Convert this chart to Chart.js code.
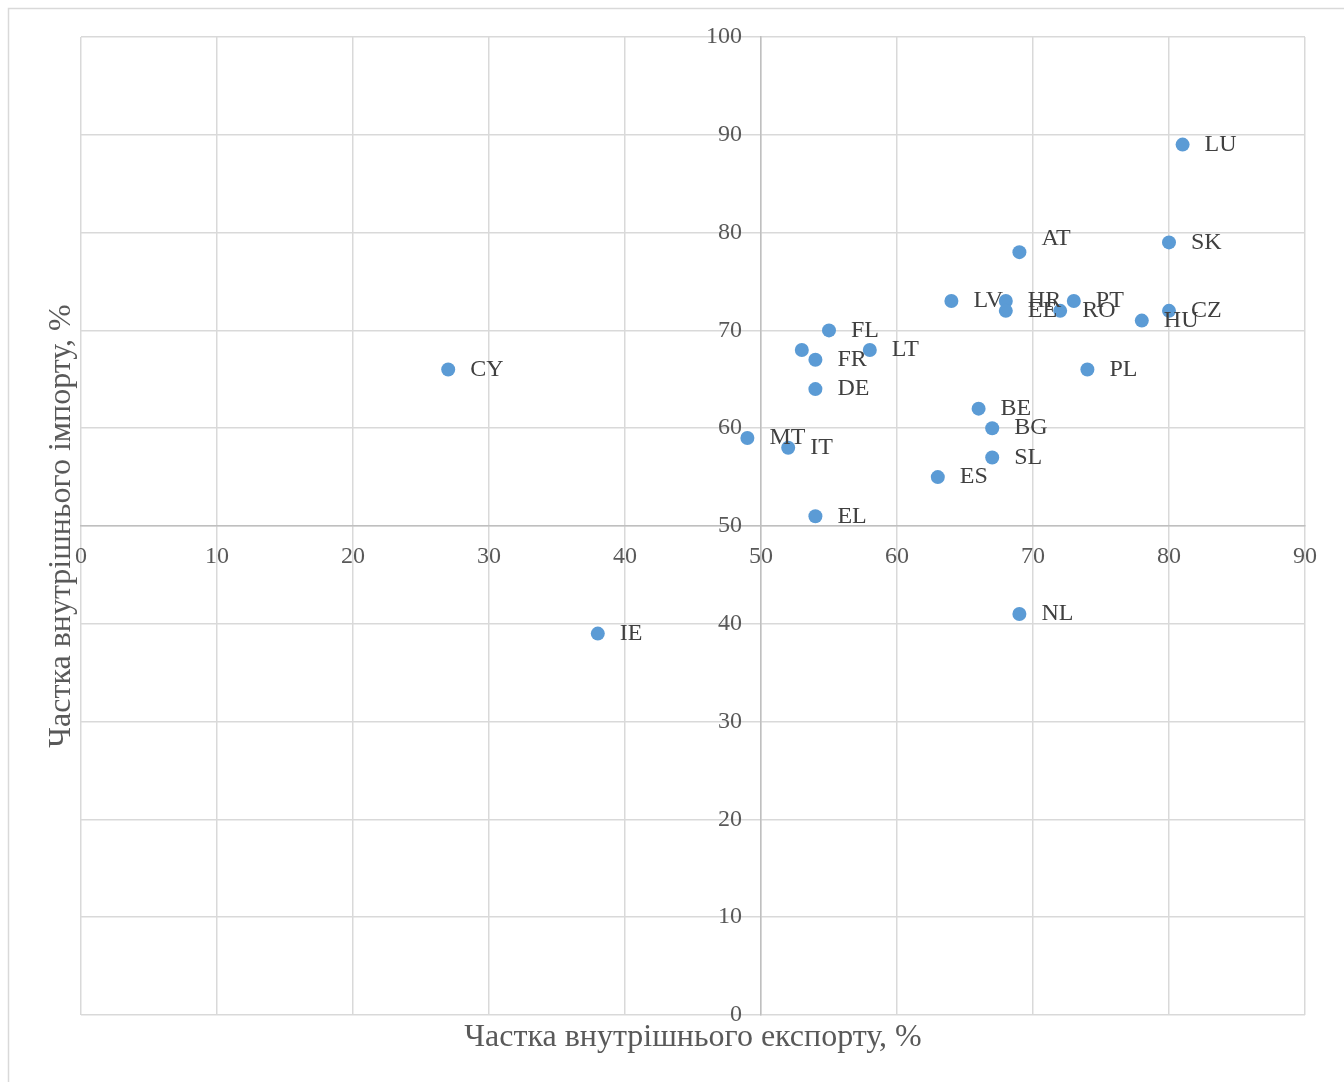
<!DOCTYPE html>
<html>
<head>
<meta charset="utf-8">
<script src="https://cdn.jsdelivr.net/npm/chart.js@4"></script>
<style>
html,body{margin:0;padding:0;background:#fff;}
canvas{display:block;}
</style>
</head>
<body>
<canvas id="c" width="1344" height="1082"></canvas>
<script>
const countries = ['LU','AT','SK','LV','HR','EE','PT','RO','CZ','HU','FL','','LT','FR','DE','CY','PL','BE','BG','MT','IT','SL','ES','EL','NL','IE'];
const exportShare = [81,69,80,64,68,68,73,72,80,78,55,53,58,54,54,27,74,66,67,49,52,67,63,54,69,38];
const importShare = [89,78,79,73,73,72,73,72,72,71,70,68,68,67,64,66,66,62,60,59,58,57,55,51,41,39];
const labelShiftY = {AT: -13};
const xTitle = 'Частка внутрішнього експорту, %';
const yTitle = 'Частка внутрішнього імпорту, %';

const points = exportShare.map((x, i) => ({x: x, y: importShare[i]}));

const serif = '"Liberation Serif", "Times New Roman", serif';

const extras = {
  id: 'extras',
  afterLayout(chart) {
    const s = chart.scales.y;
    if (s && !s._shifted) {
      const orig = s.drawLabels;
      s.drawLabels = function (area) {
        const c = this.ctx;
        c.save();
        c.translate(-19, 0);
        orig.call(this, area);
        c.restore();
      };
      s._shifted = true;
    }
  },
  beforeDraw(chart) {
    const ctx = chart.ctx;
    ctx.save();
    ctx.fillStyle = '#fff';
    ctx.fillRect(0, 0, chart.width, chart.height);
    ctx.strokeStyle = '#d9d9d9';
    ctx.lineWidth = 1.5;
    ctx.strokeRect(8.5, 8.5, chart.width + 20, chart.height + 20);
    ctx.restore();
  },
  afterDraw(chart) {
    const ctx = chart.ctx;
    const area = chart.chartArea;
    ctx.save();
    // data labels
    ctx.font = '24px ' + serif;
    ctx.fillStyle = '#404040';
    ctx.textAlign = 'left';
    ctx.textBaseline = 'middle';
    const meta = chart.getDatasetMeta(0);
    meta.data.forEach((el, i) => {
      const lab = countries[i];
      if (!lab) return;
      const dy = labelShiftY[lab] || 0;
      ctx.fillText(lab, el.x + 22, el.y + dy);
    });
    // axis titles
    ctx.font = '32px ' + serif;
    ctx.fillStyle = '#595959';
    ctx.textAlign = 'center';
    ctx.textBaseline = 'middle';
    ctx.fillText(xTitle, (area.left + area.right) / 2, 1038);
    ctx.translate(62, (area.top + area.bottom) / 2);
    ctx.rotate(-Math.PI / 2);
    ctx.fillText(yTitle, 0, 0);
    ctx.restore();
  }
};

new Chart(document.getElementById('c'), {
  type: 'scatter',
  data: {
    datasets: [{
      data: points,
      backgroundColor: '#5B9BD5',
      borderColor: '#5B9BD5',
      borderWidth: 0,
      pointRadius: 7,
      pointHoverRadius: 7
    }]
  },
  options: {
    responsive: false,
    devicePixelRatio: 1,
    animation: false,
    layout: {padding: {left: 81, top: 37, right: 39, bottom: 67}},
    plugins: {legend: {display: false}, tooltip: {enabled: false}},
    scales: {
      x: {
        type: 'linear',
        min: 0, max: 90,
        position: {y: 50},
        ticks: {stepSize: 10, color: '#595959', font: {family: serif, size: 24}, padding: 16},
        grid: {color: '#d9d9d9', lineWidth: 1.5, drawTicks: false, tickLength: 0},
        border: {color: '#bfbfbf', width: 1.5}
      },
      y: {
        type: 'linear',
        min: 0, max: 100,
        position: {x: 50},
        ticks: {stepSize: 10, color: '#595959', font: {family: serif, size: 24}, padding: 20},
        grid: {color: '#d9d9d9', lineWidth: 1.5, drawTicks: false, tickLength: 0},
        border: {color: '#bfbfbf', width: 1.5}
      }
    }
  },
  plugins: [extras]
});
</script>
</body>
</html>
